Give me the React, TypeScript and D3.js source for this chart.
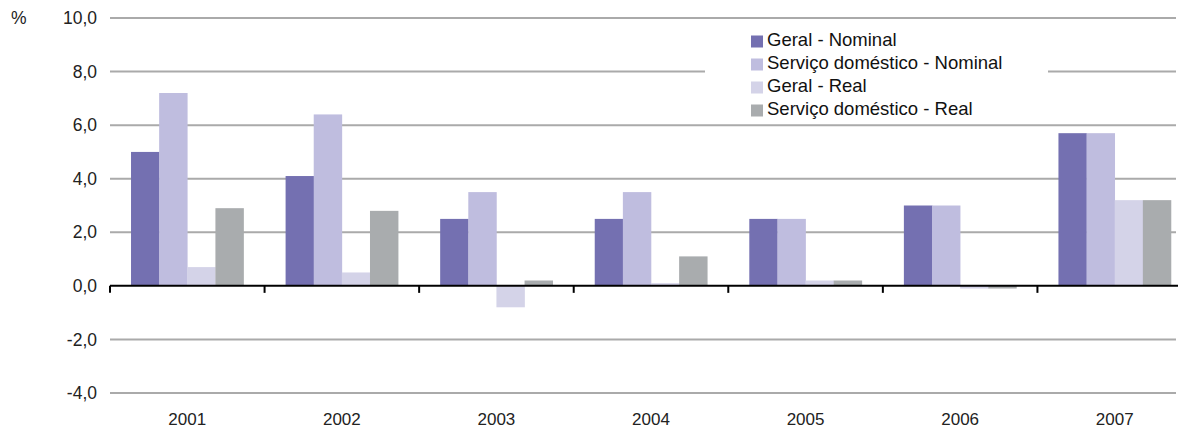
import { useEffect, useRef } from 'react';
import * as d3 from 'd3';

const YEARS = ['2001', '2002', '2003', '2004', '2005', '2006', '2007'];
const SERIES = ['Geral - Nominal', 'Serviço doméstico - Nominal', 'Geral - Real', 'Serviço doméstico - Real'];
const GERAL_NOMINAL = [5.0, 4.1, 2.5, 2.5, 2.5, 3.0, 5.7];
const SERVICO_NOMINAL = [7.2, 6.4, 3.5, 3.5, 2.5, 3.0, 5.7];
const GERAL_REAL = [0.7, 0.5, -0.8, 0.1, 0.2, -0.1, 3.2];
const SERVICO_REAL = [2.9, 2.8, 0.2, 1.1, 0.2, -0.1, 3.2];
const Y_TICKS = [-4, -2, 0, 2, 4, 6, 8, 10];
const COLORS = ['#7470B1', '#BFBDDF', '#D4D3E8', '#A9ACAE'];

const W = 1178;
const H = 429;

export default function App() {
  const svgRef = useRef<SVGSVGElement>(null);

  useEffect(() => {
    const svg = d3.select(svgRef.current!);
    svg.selectAll('*').remove();
    const font = 'Liberation Sans, Arial, sans-serif';

    const x = d3.scaleBand().domain(YEARS).range([110, 1192]).paddingInner(0.272).paddingOuter(0.136);
    const x1 = d3.scaleBand().domain(SERIES).range([0, x.bandwidth()]);
    const y = d3.scaleLinear().domain([-4, 10]).range([393, 18]);
    const step = x.step();
    const x0 = 110;

    // gridlines
    svg.append('g').selectAll('line').data(Y_TICKS.filter((t) => t !== 0)).join('line')
      .attr('x1', x0).attr('x2', 1176)
      .attr('y1', (d) => y(d)).attr('y2', (d) => y(d))
      .attr('stroke', '#AAAAAA').attr('stroke-width', 2);

    // y tick labels
    svg.append('g').selectAll('text').data(Y_TICKS).join('text')
      .attr('x', 97).attr('y', (d) => y(d)).attr('dy', '0.35em')
      .attr('text-anchor', 'end').attr('font-family', font).attr('font-size', 17.5).attr('fill', '#222')
      .text((d) => d.toFixed(1).replace('.', ','));

    svg.append('text').attr('x', 11).attr('y', y(10)).attr('dy', '0.35em')
      .attr('font-family', font).attr('font-size', 17.5).attr('fill', '#222').text('%');

    // legend box (hides gridline under it)
    svg.append('rect').attr('x', 705).attr('y', 24).attr('width', 343).attr('height', 96).attr('fill', '#fff');

    const rows = SERIES.map((s, i) => ({ s, vals: [GERAL_NOMINAL, SERVICO_NOMINAL, GERAL_REAL, SERVICO_REAL][i], c: COLORS[i] }));

    // bars
    rows.forEach((r) => {
      svg.append('g').selectAll('rect').data(r.vals).join('rect')
        .attr('x', (_, i) => (x(YEARS[i]) ?? 0) + (x1(r.s) ?? 0))
        .attr('width', x1.bandwidth() + 0.3)
        .attr('y', (d) => y(Math.max(0, d)))
        .attr('height', (d) => Math.abs(y(d) - y(0)))
        .attr('fill', r.c);
    });

    // zero axis
    svg.append('line').attr('x1', x0).attr('x2', W).attr('y1', y(0)).attr('y2', y(0))
      .attr('stroke', '#000').attr('stroke-width', 2);
    svg.append('g').selectAll('line').data(d3.range(YEARS.length + 1)).join('line')
      .attr('x1', (i) => x0 + i * step).attr('x2', (i) => x0 + i * step)
      .attr('y1', y(0)).attr('y2', y(0) + 7)
      .attr('stroke', '#000').attr('stroke-width', 2);

    // year labels
    svg.append('g').selectAll('text').data(YEARS).join('text')
      .attr('x', (d) => (x(d) ?? 0) + x.bandwidth() / 2).attr('y', 425)
      .attr('text-anchor', 'middle').attr('font-family', font).attr('font-size', 17).attr('fill', '#222')
      .text((d) => d);

    // legend
    const lg = svg.append('g').selectAll('g').data(rows).join('g')
      .attr('transform', (_, i) => `translate(751,${45.5 + i * 23})`);
    lg.append('rect').attr('x', 0).attr('y', -10).attr('width', 12).attr('height', 12).attr('fill', (d) => d.c);
    lg.append('text').attr('x', 16).attr('y', 0)
      .attr('font-family', font).attr('font-size', 18.5).attr('fill', '#111').text((d) => d.s);
  }, []);

  return (
    <svg ref={svgRef} width={W} height={H} style={{ display: 'block', position: 'absolute', left: 0, top: 0, background: '#fff' }} />
  );
}
